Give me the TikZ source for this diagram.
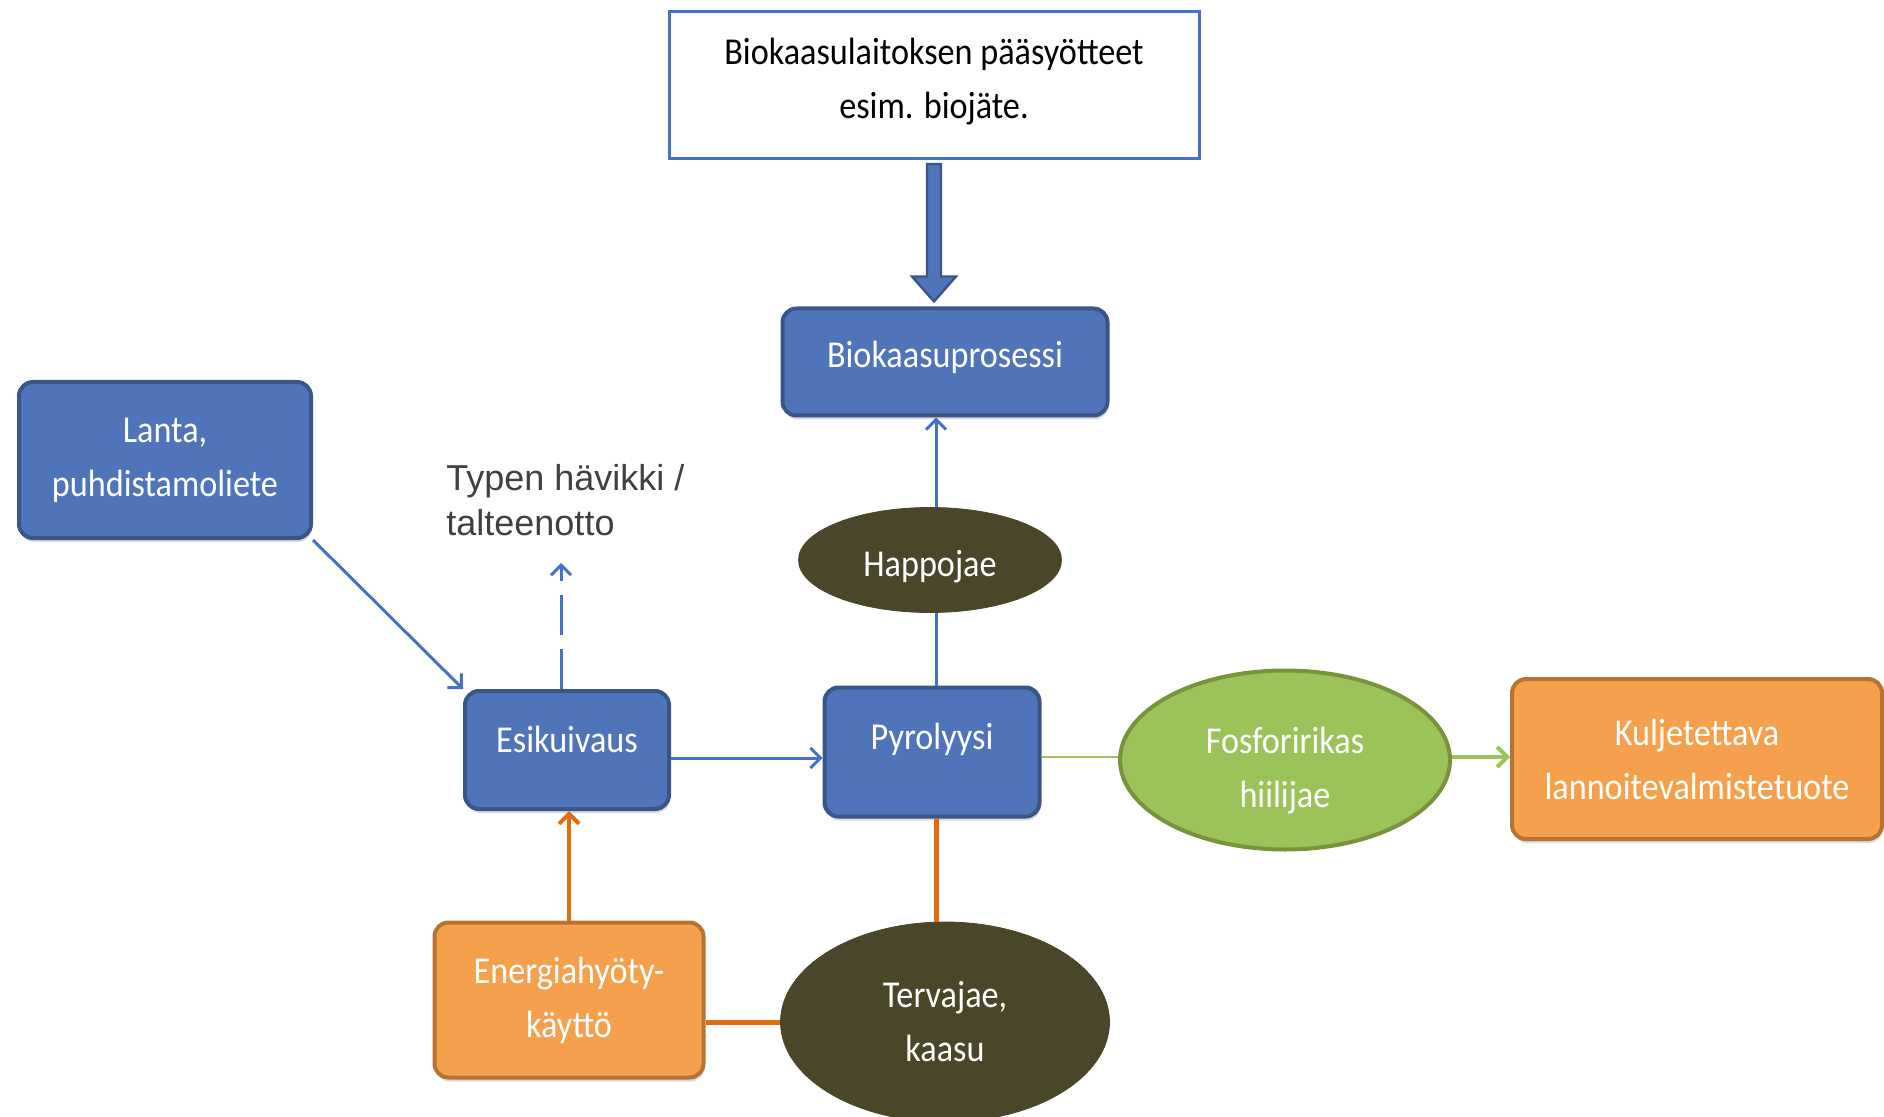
\documentclass[tikz,border=0pt]{standalone}
\usepackage{fontspec}
\setmainfont{Carlito}[FakeStretch=0.9]
\newfontfamily\arialfont{Liberation Sans}
\usetikzlibrary{shapes.geometric,arrows.meta,calc,shadows}

\definecolor{boxblue}{HTML}{4F74BA}
\definecolor{boxblueline}{HTML}{3A5689}
\definecolor{lineblue}{HTML}{4472C4}
\definecolor{boxorange}{HTML}{F5A04C}
\definecolor{boxorangeline}{HTML}{B87333}
\definecolor{lineorange}{HTML}{E46C0A}
\definecolor{blobgreen}{HTML}{9BC35A}
\definecolor{blobgreenline}{HTML}{77933C}
\definecolor{darkolive}{HTML}{4A4629}
\definecolor{textgray}{HTML}{404040}

\tikzset{
  every box/.style={rectangle, rounded corners=7pt, line width=2pt, text=white,
    align=center, inner sep=0pt, font=\fontsize{19}{27}\selectfont,
    drop shadow={shadow xshift=0.5pt, shadow yshift=-2pt, fill=black, opacity=0.15}},
  blue box/.style={every box, fill=boxblue, draw=boxblueline},
  orange box/.style={every box, fill=boxorange, draw=boxorangeline},
  every blob/.style={ellipse, inner sep=0pt, text=white, align=center,
    font=\fontsize{19}{27}\selectfont},
  dark blob/.style={every blob, fill=darkolive, draw=darkolive},
  green blob/.style={every blob, fill=blobgreen, draw=blobgreenline, line width=2pt},
  feed box/.style={rectangle, draw=lineblue, fill=white, line width=1.5pt,
    align=center, inner sep=0pt, font=\fontsize{19}{27}\selectfont},
  note text/.style={align=left, inner sep=0pt, text=textgray,
    font=\arialfont\fontsize{18}{22.8}\selectfont},
  blue line/.style={draw=lineblue, line width=1.5pt},
  orange line/.style={draw=lineorange, line width=2.5pt},
  green line/.style={draw=blobgreen, line width=1.2pt}
}

\begin{document}
\begin{tikzpicture}[x=0.5pt, y=-0.5pt, >={Straight Barb[length=5pt, width=10pt]}]
  \useasboundingbox (0,0) rectangle (1884,1117);

  % boxes
  \node [feed box, minimum width=265pt, minimum height=73.5pt, text depth=7pt] (feed) at (934,85)
    {Biokaasulaitoksen pääsyötteet\\esim. biojäte.};
  \node [blue box, minimum width=162.5pt, minimum height=53.5pt, text depth=8pt] (bio) at (945,362) {Biokaasuprosessi};
  \node [blue box, minimum width=146pt, minimum height=78pt] (lanta) at (165,460) {Lanta,\\puhdistamoliete};
  \node [blue box, minimum width=102pt, minimum height=59pt, text depth=11pt] (esik) at (567,750) {Esikuivaus};
  \node [blue box, minimum width=107.5pt, minimum height=64.5pt, text depth=16pt] (pyro) at (932,752) {Pyrolyysi};
  \node [orange box, minimum width=185pt, minimum height=80pt] (kulje) at (1697,759)
    {Kuljetettava\\lannoitevalmistetuote};
  \node [orange box, minimum width=134.5pt, minimum height=77.5pt] (energia) at (569,1000)
    {Energiahyöty-\\käyttö};

  % ellipses
  \node [dark blob, minimum width=131.5pt, minimum height=52.5pt, text height=19.5pt] (happo) at (930,560) {Happojae};
  \node [green blob, minimum width=165pt, minimum height=89.5pt, text height=51pt] (fosfo) at (1285,760)
    {Fosforirikas\\hiilijae};
  \node [dark blob, minimum width=164.5pt, minimum height=100pt] (terva) at (945,1022)
    {Tervajae,\\kaasu};

  \node [note text, anchor=west] (typen) at (446,500) {Typen hävikki /\\talteenotto};
  \coordinate (nloss) at ($(esik.north)+(-6,-126)$);

  % block arrow feed -> bio
  \draw [draw=boxblueline, fill=boxblue, line width=1.2pt]
    ($(feed.south)+(-7,4)$) -- ($(feed.south |- bio.north)+(-7,-30)$)
    -- ($(feed.south |- bio.north)+(-22,-30)$) -- ($(feed.south |- bio.north)+(0,-5)$)
    -- ($(feed.south |- bio.north)+(22,-30)$) -- ($(feed.south |- bio.north)+(7,-30)$)
    -- ($(feed.south)+(7,4)$) -- cycle;

  % connectors
  \draw [blue line, ->] (lanta.south east) -- (esik.north west);
  \draw [blue line, ->, dash pattern=on 20pt off 7pt] ($(esik.north)+(-6,0)$) -- (nloss);
  \draw [blue line, ->] ($(esik.east)+(0,8)$) -- ($(esik.east -| pyro.west)+(0,8)$);
  \draw [blue line] ($(pyro.north)+(4,0)$) -- ($(happo.south)+(6,0)$);
  \draw [blue line, ->] ($(happo.north)+(6,0)$) -- ($(happo.north |- bio.south)+(6,0)$);
  \draw [green line] ($(pyro.east)+(0,5)$) -- ($(fosfo.west)+(0,-3)$);
  \draw [green line, line width=2pt, ->] ($(fosfo.east)+(0,-3)$) -- ($(fosfo.east -| kulje.west)+(0,-3)$);
  \draw [orange line] ($(pyro.south)+(4,0)$) -- ($(terva.north)+(-9,0)$);
  \draw [orange line] (terva) -- (terva -| energia.east);
  \draw [orange line, line width=2pt, ->] (energia.north) -- (energia.north |- esik.south);
\end{tikzpicture}
\end{document}
